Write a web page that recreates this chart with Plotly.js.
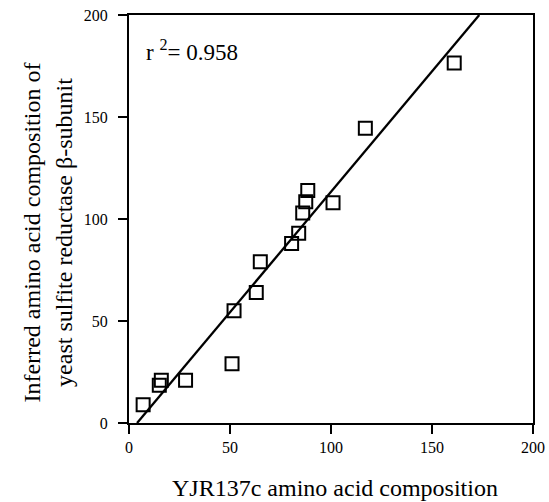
<!DOCTYPE html>
<html>
<head>
<meta charset="utf-8">
<script src="https://cdn.plot.ly/plotly-3.0.1.min.js"></script>
<style>html,body{margin:0;padding:0;background:#fff;}#chart{width:549px;height:502px;}</style>
</head>
<body>
<div id="chart"></div>
<script>
// Data
var xVals = [7, 15, 16, 28, 51, 52, 63, 65, 80.5, 84, 86, 87.5, 88.5, 101, 117, 161];
var yVals = [9, 18.5, 21, 21, 29, 55, 64, 79, 88, 93, 103, 108.5, 114, 108, 144.5, 176.5];
var fitX = [4, 173.4];
var fitY = [0, 200];
var tickVals = [0, 50, 100, 150, 200];
var tickText = ["0", "50", "100", "150", "200"];
var xTitle = "YJR137c amino acid composition";
var yTitle = "Inferred amino acid composition of<br>yeast sulfite reductase β-subunit";
var r2Label = "r <sup>2</sup>= 0.958";

var serif = "Liberation Serif, Times New Roman, serif";

var traces = [
  {
    x: xVals, y: yVals, type: "scatter", mode: "markers",
    marker: {symbol: "square-open", size: 13, color: "#000", line: {color: "#000", width: 2}},
    showlegend: false, hoverinfo: "skip"
  },
  {
    x: fitX, y: fitY, type: "scatter", mode: "lines",
    line: {color: "#000", width: 2.3},
    showlegend: false, hoverinfo: "skip"
  }
];

var axisCommon = {
  range: [0, 200], tickvals: tickVals, ticktext: tickText,
  showline: true, linecolor: "#000", linewidth: 2, mirror: true,
  ticks: "outside", ticklen: 9, tickwidth: 1.5, tickcolor: "#000",
  showgrid: false, zeroline: false,
  tickfont: {family: serif, size: 16, color: "#000"},
  fixedrange: true
};

var layout = {
  width: 549, height: 502,
  margin: {l: 129, r: 16, t: 15, b: 79},
  paper_bgcolor: "#fff", plot_bgcolor: "#fff",
  xaxis: Object.assign({}, axisCommon),
  yaxis: Object.assign({}, axisCommon, {ticklabelstandoff: 7}),
  annotations: [
    {text: xTitle, xref: "paper", yref: "paper", x: 0.51, y: -0.159,
     xanchor: "center", yanchor: "middle", showarrow: false,
     font: {family: serif, size: 24, color: "#000"}},
    {text: yTitle, xref: "paper", yref: "paper", x: -0.202, y: 0.468,
     xanchor: "center", yanchor: "middle", showarrow: false, textangle: -90,
     font: {family: serif, size: 24, color: "#000"}},
    {text: r2Label, xref: "paper", yref: "paper", x: 0.038, y: 0.912,
     xanchor: "left", yanchor: "middle", showarrow: false,
     font: {family: serif, size: 23, color: "#000"}}
  ]
};

Plotly.newPlot("chart", traces, layout, {staticPlot: true, displayModeBar: false});
</script>
</body>
</html>
